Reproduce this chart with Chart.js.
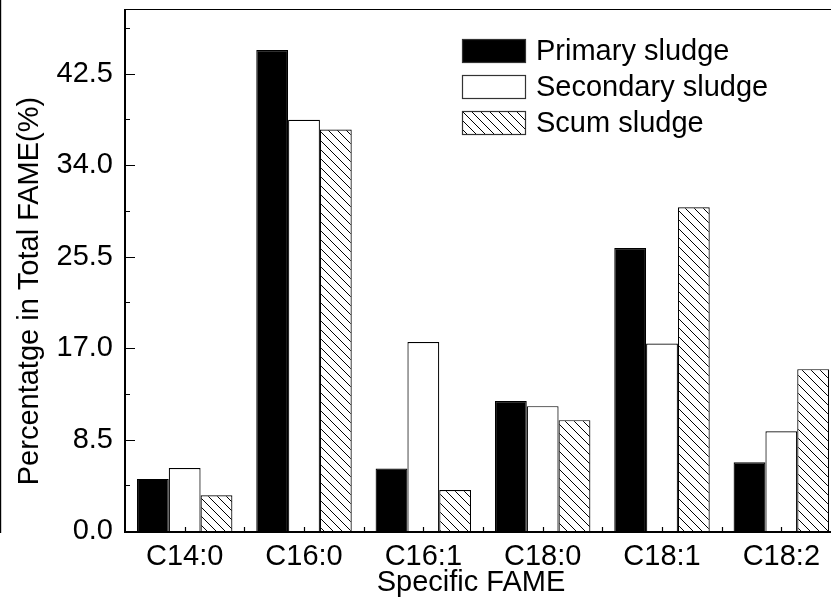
<!DOCTYPE html>
<html>
<head>
<meta charset="utf-8">
<script src="https://cdn.jsdelivr.net/npm/chart.js@4"></script>
<style>
  html, body { margin: 0; padding: 0; background: #fff; overflow: hidden; }
  #wrap { width: 831px; height: 600px; overflow: hidden; }
</style>
</head>
<body>
<div id="wrap"><canvas id="chart" width="841" height="600"></canvas></div>
<script>
const categories = ['C14:0', 'C16:0', 'C16:1', 'C18:0', 'C18:1', 'C18:2'];
const primary = [4.84, 44.68, 5.8, 12.07, 26.3, 6.39];
const secondary = [5.86, 38.2, 17.55, 11.6, 17.42, 9.27];
const scum = [3.32, 37.3, 3.81, 10.3, 30.07, 15.04];
const seriesNames = ['Primary sludge', 'Secondary sludge', 'Scum sludge'];
const yMajor = [0, 8.5, 17, 25.5, 34, 42.5];
const yMinor = [4.25, 12.75, 21.25, 29.75, 38.25, 46.75];

const FONT = '"Liberation Sans", Arial, sans-serif';
const FSIZE = 29;

// diagonal hatch "\\\\"
function hatch() {
    const s = 9;
    const c = document.createElement('canvas');
    c.width = s; c.height = s;
    const g = c.getContext('2d');
    g.fillStyle = '#fff';
    g.fillRect(0, 0, s, s);
    g.strokeStyle = '#000';
    g.lineWidth = 1;
    g.beginPath();
    g.moveTo(-1, -1); g.lineTo(s + 1, s + 1);
    g.moveTo(-1, s - 1); g.lineTo(1, s + 1);
    g.moveTo(s - 1, -1); g.lineTo(s + 1, 1);
    g.stroke();
    return g.createPattern(c, 'repeat');
}

const ctx = document.getElementById('chart').getContext('2d');
const hatchFill = hatch();

const extras = {
    id: 'extras',
    afterDraw(chart) {
        const c = chart.ctx;
        const a = chart.chartArea;
        const x = chart.scales.x;
        const y = chart.scales.y;
        c.save();
        c.strokeStyle = '#000';

        // frame: left, bottom, top
        c.lineWidth = 2;
        c.beginPath();
        c.moveTo(a.left, a.top);
        c.lineTo(a.left, a.bottom + 1);
        c.lineTo(a.right, a.bottom + 1);
        c.stroke();
        c.lineWidth = 1.2;
        c.beginPath();
        c.moveTo(a.left, a.top + 0.5);
        c.lineTo(a.right, a.top + 0.5);
        c.stroke();

        // stray line at left edge
        c.beginPath();
        c.moveTo(0.6, 0);
        c.lineTo(0.6, a.bottom + 2);
        c.stroke();

        // inward ticks
        c.beginPath();
        yMajor.forEach(v => {
            const py = Math.round(y.getPixelForValue(v)) + 0.5;
            c.moveTo(a.left, py); c.lineTo(a.left + 10, py);
        });
        yMinor.forEach(v => {
            const py = Math.round(y.getPixelForValue(v)) + 0.5;
            c.moveTo(a.left, py); c.lineTo(a.left + 5, py);
        });
        categories.forEach((_, i) => {
            const px = Math.round(x.getPixelForValue(i)) + 0.5;
            c.moveTo(px, a.bottom); c.lineTo(px, a.bottom - 4);
            const pb = Math.round(x.getPixelForValue(i + 0.5)) + 0.5;
            c.moveTo(pb, a.bottom); c.lineTo(pb, a.bottom - 4);
        });
        c.stroke();

        // axis titles
        c.fillStyle = '#000';
        c.font = FSIZE + 'px ' + FONT;
        c.textAlign = 'center';
        c.textBaseline = 'middle';
        c.fillText('Specific FAME', 471, 583);
        c.save();
        c.translate(30, 291);
        c.rotate(-Math.PI / 2);
        c.fillText('Percentatge in Total FAME(%)', 0, 0);
        c.restore();

        // legend inside plot
        c.textAlign = 'left';
        chart.data.datasets.forEach((ds, i) => {
            const bx = a.left + 337;
            const cy = a.top + 42 + i * 36;
            c.fillStyle = ds.backgroundColor;
            c.fillRect(bx, cy - 12, 64, 24);
            c.lineWidth = 1.2;
            c.strokeStyle = '#333';
            c.strokeRect(bx + 0.5, cy - 11.5, 63, 23);
            c.fillStyle = '#000';
            c.fillText(ds.label, bx + 74, cy + 1);
        });
        c.restore();
    }
};

new Chart(ctx, {
    type: 'bar',
    data: {
        labels: categories,
        datasets: [
            { label: seriesNames[0], data: primary, backgroundColor: '#000', borderColor: '#000', borderWidth: 1.2 },
            { label: seriesNames[1], data: secondary, backgroundColor: '#fff', borderColor: '#000', borderWidth: 1.2 },
            { label: seriesNames[2], data: scum, backgroundColor: hatchFill, borderColor: '#000', borderWidth: 1.2 }
        ]
    },
    options: {
        responsive: false,
        animation: false,
        devicePixelRatio: 1,
        layout: { padding: { top: 9, right: 0, left: 0, bottom: 0 } },
        datasets: { bar: { categoryPercentage: 0.8, barPercentage: 1.0 } },
        plugins: {
            legend: { display: false },
            tooltip: { enabled: false }
        },
        scales: {
            x: {
                grid: { display: false, drawTicks: false },
                border: { display: false },
                ticks: {
                    color: '#000',
                    font: { family: FONT, size: FSIZE },
                    padding: 9,
                    maxRotation: 0,
                    autoSkip: false
                },
                afterFit(scale) {
                    scale.height = 69;
                    scale.paddingLeft = 0;
                    scale.paddingRight = 0;
                }
            },
            y: {
                min: 0,
                max: 48.5,
                grid: { display: false, drawTicks: false },
                border: { display: false },
                ticks: {
                    stepSize: 8.5,
                    color: '#000',
                    font: { family: FONT, size: FSIZE },
                    padding: 12,
                    callback: v => {
                        const k = v / 8.5;
                        return Math.abs(k - Math.round(k)) < 1e-6 ? v.toFixed(1) : '';
                    }
                },
                afterFit(scale) {
                    scale.width = 125;
                    scale.paddingTop = 0;
                    scale.paddingBottom = 0;
                }
            }
        }
    },
    plugins: [extras]
});
</script>
</body>
</html>
